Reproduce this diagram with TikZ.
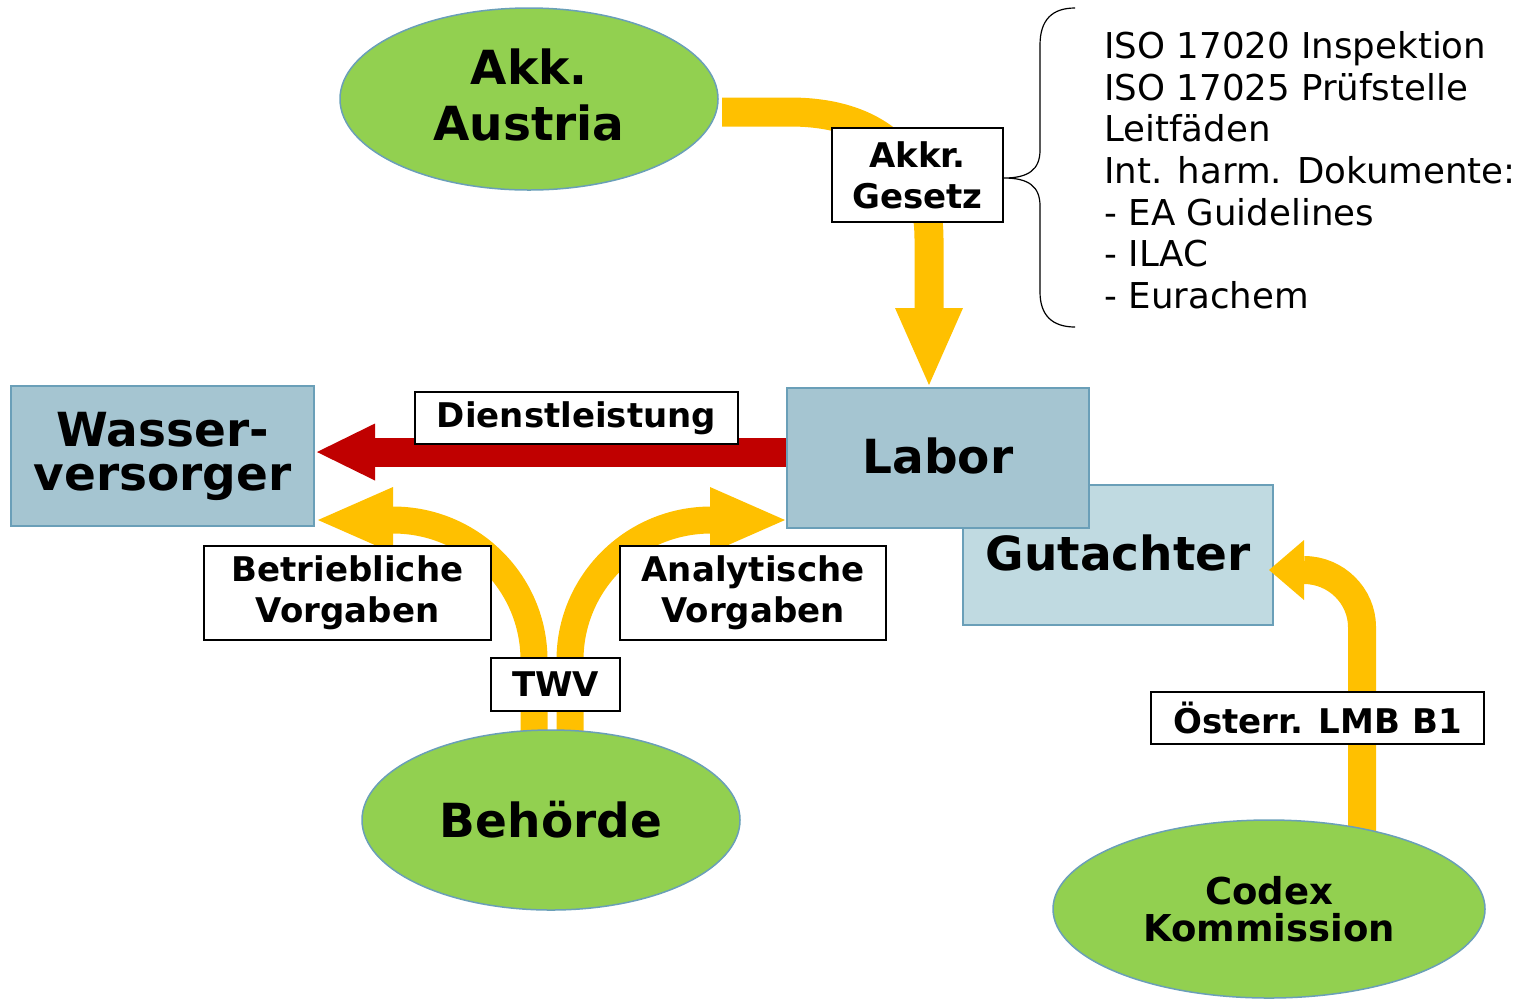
\documentclass[tikz,border=0pt]{standalone}
\usepackage{fontspec}
\setmainfont{DejaVu Sans}
\usetikzlibrary{arrows.meta,shapes.geometric}
\definecolor{grn}{HTML}{92D050}
\definecolor{ylw}{HTML}{FFC000}
\definecolor{rd}{HTML}{C00000}
\definecolor{bx}{HTML}{A5C5D1}
\definecolor{bxl}{HTML}{C0DAE1}
\definecolor{bdr}{HTML}{6A9FB8}
\begin{document}
\begin{tikzpicture}[x=0.5pt,y=-0.5pt,
  ell/.style={ellipse, fill=grn, draw=bdr, line width=0.75pt, inner sep=0pt, align=center},
  bigbox/.style={rectangle, draw=bdr, line width=0.75pt, inner sep=0pt, align=center},
  lbl/.style={rectangle, draw=black, fill=white, line width=1pt, inner sep=0pt, align=center,
    font=\fontsize{17pt}{20.5pt}\selectfont\bfseries},
  bigtxt/.style={font=\fontsize{23.5pt}{28pt}\selectfont\bfseries},
  yarrow/.style={draw=ylw, line width=#1},
]
\useasboundingbox (0,0) rectangle (1518,998);

% boxes
\node[bigbox, fill=bxl, minimum width=155pt, minimum height=70pt, bigtxt] (gut) at (1118,555) {\raisebox{2pt}{Gutachter}};
\node[bigbox, fill=bx, minimum width=151pt, minimum height=70pt, bigtxt] (labor) at (938,458) {\raisebox{2.5pt}{Labor}};
\node[bigbox, fill=bx, minimum width=151.5pt, minimum height=70pt,
  font=\fontsize{23.5pt}{22pt}\selectfont\bfseries] (wasser) at (162.5,456) {Wasser-\\versorger};

% named connector ends
\coordinate (a1s) at (722,112);
\coordinate (a1e) at (929,385);
\coordinate (bls) at (534,745);
\coordinate (ble) at (318,520);
\coordinate (brs) at (570,745);
\coordinate (bre) at (785,520);
\coordinate (cs) at (1362,845);
\coordinate (ce) at (1269,570);
\coordinate (re) at (317,452);

% yellow arrows
\draw[yarrow=14.5pt, -{Triangle[length=38.5pt,width=34pt,line width=0pt]}]
  (a1s) -- (790,112) .. controls (880,112) and (929,160) .. (929,240) -- (a1e);
\draw[yarrow=13.5pt, -{Triangle[length=37.5pt,width=33pt,line width=0pt]}]
  (bls) -- (534,660) .. controls (534,583) and (471,520) .. (393,520) -- (ble);
\draw[yarrow=13.5pt, -{Triangle[length=37.5pt,width=33pt,line width=0pt]}]
  (brs) -- (570,660) .. controls (570,583) and (633,520) .. (711,520) -- (bre);
\draw[yarrow=14pt, -{Triangle[length=17.5pt,width=30pt,line width=0pt]}]
  (cs) -- (1362,627) .. controls (1362,596) and (1336,570) .. (1304,570) -- (ce);
% red arrow
\draw[draw=rd, line width=14.5pt, -{Triangle[length=29pt,width=28.5pt,line width=0pt]}]
  (labor.west |- 0,452) -- (re);

% ellipses
\node[ell, minimum width=189pt, minimum height=91pt] (akk) at (529,99) {};
\node[bigtxt, align=center, inner sep=0pt] (akktxt) at (529,95) {Akk.\\Austria};
\node[ell, minimum width=189pt, minimum height=90pt, bigtxt] (beh) at (551,820) {Behörde};
\node[ell, minimum width=216pt, minimum height=89pt,
  font=\fontsize{18.5pt}{18.5pt}\selectfont\bfseries] (codex) at (1269,909) {Codex\\Kommission};

% labels
\node[lbl, minimum width=85.5pt, minimum height=47pt] (akkr) at (917.5,175) {Akkr.\\Gesetz};
\node[lbl, minimum width=161.5pt, minimum height=26pt] (dienst) at (576.5,418) {Dienstleistung};
\node[lbl, minimum width=143.5pt, minimum height=47pt] (betr) at (347.5,593) {Betriebliche\\Vorgaben};
\node[lbl, minimum width=133pt, minimum height=47pt] (analyt) at (753,593) {Analytische\\Vorgaben};
\node[lbl, minimum width=64.5pt, minimum height=26.5pt] (twv) at (555.5,684.5) {TWV};
\node[lbl, minimum width=166.5pt, minimum height=26pt] (lmb) at (1317.5,718) {Österr. LMB B1};

% brace
\draw[black, line width=0.6pt] (1075,8) .. controls (1052,8) and (1040,20) .. (1040,45)
  -- (1040,150) .. controls (1040,170) and (1028,178) .. (akkr.east |- 0,178)
  .. controls (1028,178) and (1040,186) .. (1040,206)
  -- (1040,292) .. controls (1040,315) and (1052,327) .. (1075,327);

% list
\node[anchor=north west, inner sep=0pt, align=left,
  font=\fontsize{17.8pt}{20.85pt}\selectfont] (list) at (1104,31)
  {ISO 17020 Inspektion\\ISO 17025 Prüfstelle\\Leitfäden\\Int. harm. Dokumente:\\- EA Guidelines\\- ILAC\\- Eurachem};
\end{tikzpicture}
\end{document}
